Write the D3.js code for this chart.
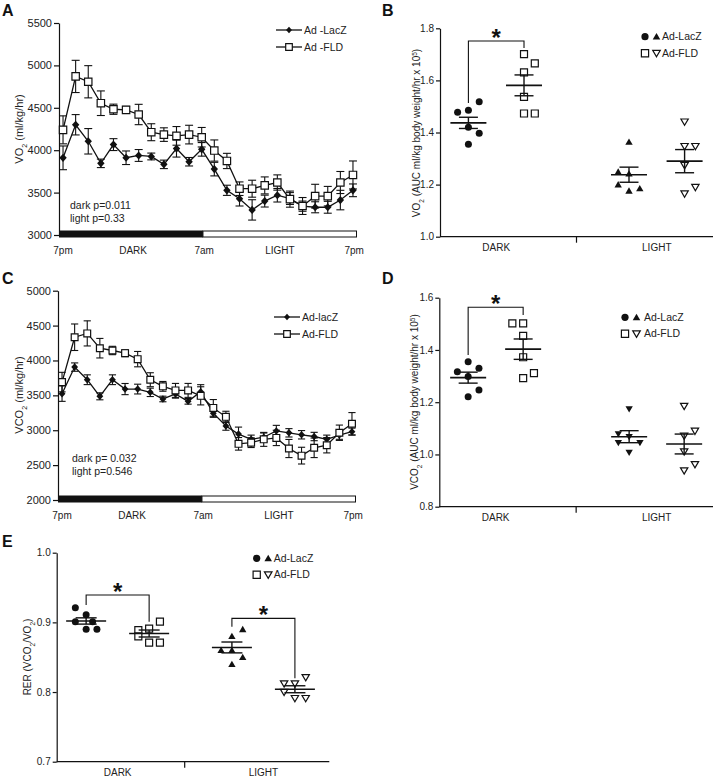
<!DOCTYPE html>
<html><head><meta charset="utf-8">
<script src="https://cdn.jsdelivr.net/npm/d3@7"></script>
<style>body{margin:0;background:#fff}svg{display:block}</style>
</head><body><svg id="c" width="713" height="778"></svg>
<script>
// ================= DATA =================
const hourIndex = d3.range(24);
const timeLabels = ["7pm", "DARK", "7am", "LIGHT", "7pm"];
const timeLabelAt = [0, 5.56, 11.2, 17.2, 23.1];   // in hour-index units
const darkEndsAt = 11.1;

const vo2Ticks = [3000, 3500, 4000, 4500, 5000, 5500];
const vo2LacZ    = [3910,4300,4105,3845,4066,3911,3938,3926,3833,4019,3864,4010,3777,3527,3427,3296,3400,3469,3430,3340,3327,3327,3412,3527];
const vo2LacZErr = [140,120,150,50,70,80,70,40,50,100,50,80,80,60,85,120,70,80,70,60,65,70,115,75];
const vo2FLD     = [4240,4870,4807,4554,4483,4476,4421,4212,4184,4169,4184,4153,3996,3873,3546,3546,3585,3619,3423,3342,3458,3458,3619,3708];
const vo2FLDErr  = [165,190,190,145,60,40,120,100,80,110,110,115,125,90,80,100,100,90,95,100,140,115,130,165];

const vco2Ticks = [2000, 2500, 3000, 3500, 4000, 4500, 5000];
const vco2LacZ    = [3524,3905,3724,3486,3724,3590,3590,3543,3448,3520,3414,3553,3245,3060,2945,2870,2900,2990,2963,2935,2910,2870,2930,2980];
const vco2LacZErr = [110,60,70,50,70,80,70,60,40,60,40,100,60,60,100,60,60,80,60,60,60,60,60,50];
const vco2FLD     = [3690,4333,4388,4176,4143,4105,4019,3724,3629,3571,3571,3493,3320,3192,2805,2822,2869,2890,2738,2636,2748,2785,2964,3093];
const vco2FLDErr  = [140,190,180,140,60,50,110,100,70,100,100,130,120,80,90,70,100,110,130,120,140,110,110,160];

const phases = ["DARK", "LIGHT"];

// B: VO2 AUC (x 10^5)
const vo2AucTicks = [1.0, 1.2, 1.4, 1.6, 1.8];
const vo2AucLacZDark  = [1.478, 1.485, 1.518, 1.420, 1.397, 1.355];
const vo2AucLacZDarkCol = [-1, 0, 1, 0, 1, 0];
const vo2AucFLDDark   = [1.701, 1.665, 1.631, 1.537, 1.473, 1.473];
const vo2AucFLDDarkCol = [0, 1, 0, 0, 0, 1];
const vo2AucLacZLight = [1.364, 1.249, 1.242, 1.200, 1.176, 1.185];
const vo2AucLacZLightCol = [0, -1, 0, -1, 0, 1];
const vo2AucFLDLight  = [1.441, 1.347, 1.347, 1.274, 1.190, 1.165];
const vo2AucFLDLightCol = [0, 0, 1, 0, 1, 0];
const vo2AucMean = [1.437, 1.581, 1.238, 1.290];   // LacZ dark, FLD dark, LacZ light, FLD light
const vo2AucSem  = [0.0215, 0.040, 0.029, 0.0445];

// D: VCO2 AUC (x 10^5)
const vco2AucTicks = [0.8, 1.0, 1.2, 1.4, 1.6];
const vco2AucLacZDark  = [1.355, 1.317, 1.330, 1.298, 1.247, 1.221];
const vco2AucLacZDarkCol = [0, -1, 1, 0, 1, 0];
const vco2AucFLDDark   = [1.502, 1.502, 1.454, 1.372, 1.292, 1.311];
const vco2AucFLDDarkCol = [-1, 0, 0, 0, 0, 1];
const vco2AucLacZLight = [1.174, 1.078, 1.068, 1.045, 1.045, 1.007];
const vco2AucLacZLightCol = [0, -1, 0, -1, 1, 0];
const vco2AucFLDLight  = [1.185, 1.090, 1.071, 1.011, 0.962, 0.938];
const vco2AucFLDLightCol = [0, 1, 0, 0, 1, 0];
const vco2AucMean = [1.294, 1.403, 1.068, 1.040];
const vco2AucSem  = [0.021, 0.039, 0.023, 0.038];

// E: RER
const rerTicks = [0.7, 0.8, 0.9, 1.0];
const rerLacZDark  = [0.921, 0.911, 0.901, 0.901, 0.890, 0.890];
const rerLacZDarkCol = [-1, 0, -1, 0.6, 0, 1];
const rerFLDDark   = [0.901, 0.891, 0.889, 0.880, 0.871, 0.871];
const rerFLDDarkCol = [1, 0, -1, -1, 0, 1];
const rerLacZLight = [0.890, 0.880, 0.860, 0.860, 0.850, 0.840];
const rerLacZLightCol = [1, 0, -1, 0, 1, 0];
const rerFLDLight  = [0.821, 0.812, 0.812, 0.800, 0.791, 0.791];
const rerFLDLightCol = [1, -1, 0, -1, 0, 1];
const rerMean = [0.902, 0.884, 0.864, 0.804];
const rerSem  = [0.0045, 0.005, 0.0078, 0.005];

// ================= DRAWING =================
const FONT = 'Arial, "Liberation Sans", Helvetica, sans-serif';
const INK = '#111';
const TXT = '#222';
const svg = d3.select('#c').attr('font-family', FONT);

function shapePath(type, s) {
  switch (type) {
    case 'circle': return d3.symbol(d3.symbolCircle, Math.PI * s * s)();
    case 'square': return `M${-s},${-s}h${2*s}v${2*s}h${-2*s}Z`;
    case 'diamond': return `M0,${-s*1.1}L${s},0L0,${s*1.1}L${-s},0Z`;
    case 'up': return `M0,${-s}L${s*1.05},${s*0.8}L${-s*1.05},${s*0.8}Z`;
    case 'down': return `M0,${s}L${s*1.05},${-s*0.8}L${-s*1.05},${-s*0.8}Z`;
  }
}
function drawMarker(g, type, filled, s, x, y) {
  g.append('path').attr('d', shapePath(type, s))
    .attr('transform', `translate(${x},${y})`)
    .attr('fill', filled ? INK : '#fff')
    .attr('stroke', filled ? 'none' : INK)
    .attr('stroke-width', 1.2);
}
function styleAxis(ax, fs) {
  ax.attr('font-family', FONT).attr('font-size', fs).attr('color', INK);
  ax.selectAll('path,line').attr('stroke', INK).attr('stroke-width', 1.2);
  ax.selectAll('text').attr('fill', TXT);
}
function panelLetter(t, x, y) {
  svg.append('text').attr('x', x).attr('y', y).attr('font-size', 16).attr('font-weight', 'bold')
    .attr('fill', INK).text(t);
}
function yLabel(parts, x, y, fs) {
  const t = svg.append('text').attr('transform', `translate(${x},${y}) rotate(-90)`)
    .attr('text-anchor', 'middle').attr('font-size', fs).attr('fill', TXT);
  parts.forEach(p => {
    if (typeof p === 'string') t.append('tspan').text(p);
    else {
      t.append('tspan').attr('baseline-shift', p.sub ? 'sub' : 'super')
        .attr('font-size', fs * 0.65).text(p.sub || p.sup);
    }
  });
}

function timePanel(c) {
  const g = svg.append('g');
  const x = d3.scaleLinear().domain([-0.32, 23.32]).range([c.x0, c.x1]);
  const y = d3.scaleLinear().domain([c.ticks[0], c.ticks[c.ticks.length - 1]]).range([c.yB, c.yT]);
  const ax = g.append('g').attr('transform', `translate(${c.x0},0)`)
    .call(d3.axisLeft(y).tickValues(c.ticks).tickSize(5).tickSizeOuter(0).tickPadding(2).tickFormat(d3.format('d')));
  styleAxis(ax, 11);
  const y0 = y(c.ticks[0]);
  g.append('rect').attr('x', x(-0.32)).attr('y', y0 - 4.5).attr('width', x(darkEndsAt) - x(-0.32)).attr('height', 7).attr('fill', INK);
  g.append('rect').attr('x', x(darkEndsAt)).attr('y', y0 - 4).attr('width', x(23.32) - x(darkEndsAt) - 0.5).attr('height', 6)
    .attr('fill', '#fff').attr('stroke', INK).attr('stroke-width', 1);
  timeLabels.forEach((t, i) => {
    g.append('text').attr('x', x(timeLabelAt[i])).attr('y', y0 + 19).attr('text-anchor', 'middle')
      .attr('font-size', 10).attr('fill', TXT).text(t);
  });
  c.series.forEach(s => {
    const sg = g.append('g');
    // error bars
    hourIndex.forEach(i => {
      const xi = x(i), hi = y(s.v[i] + s.e[i]), lo = y(s.v[i] - s.e[i]);
      sg.append('line').attr('x1', xi).attr('x2', xi).attr('y1', hi).attr('y2', lo).attr('stroke', INK).attr('stroke-width', 1.1);
      [hi, lo].forEach(yy => sg.append('line').attr('x1', xi - c.cap).attr('x2', xi + c.cap).attr('y1', yy).attr('y2', yy)
        .attr('stroke', INK).attr('stroke-width', 1.1));
    });
    sg.append('path').attr('d', d3.line().x(i => x(i)).y(i => y(s.v[i]))(hourIndex))
      .attr('fill', 'none').attr('stroke', INK).attr('stroke-width', 1.3);
    hourIndex.forEach(i => drawMarker(sg, s.type, s.filled, c.ms, x(i), y(s.v[i])));
  });
  // legend
  c.series.forEach((s, k) => {
    const ly = c.legY + k * 17;
    g.append('line').attr('x1', c.legX).attr('x2', c.legX + 26).attr('y1', ly).attr('y2', ly).attr('stroke', INK).attr('stroke-width', 1.3);
    drawMarker(g, s.type, s.filled, s.type === 'diamond' ? 3 : 3.3, c.legX + 13, ly);
    g.append('text').attr('x', c.legX + 28).attr('y', ly + 3.6).attr('font-size', 10.5).attr('fill', TXT).text(s.name);
  });
  c.notes.forEach((t, k) => {
    g.append('text').attr('x', c.noteX).attr('y', c.noteY + k * 13).attr('font-size', 10.5).attr('fill', TXT).text(t);
  });
}

function dotPanel(c) {
  const g = svg.append('g');
  const x = d3.scaleLinear().domain(c.xDomain).range([c.x0, c.x1]);
  const y = d3.scaleLinear().domain([c.ticks[0], c.ticks[c.ticks.length - 1]]).range([c.yB, c.yT]);
  const ax = g.append('g').attr('transform', `translate(${c.x0},0)`)
    .call(d3.axisLeft(y).tickValues(c.ticks).tickSize(4).tickSizeOuter(0).tickPadding(2).tickFormat(d3.format('.1f')));
  styleAxis(ax, 10);
  g.append('line').attr('x1', c.x0).attr('x2', c.x1).attr('y1', c.yB).attr('y2', c.yB).attr('stroke', INK).attr('stroke-width', 1.3);
  g.append('line').attr('x1', x(c.midTick)).attr('x2', x(c.midTick)).attr('y1', c.yB).attr('y2', c.yB + 6).attr('stroke', INK).attr('stroke-width', 1.2);
  phases.forEach((p, i) => g.append('text').attr('x', x(i)).attr('y', c.yB + 14.5).attr('text-anchor', 'middle')
    .attr('font-size', 10).attr('fill', TXT).text(p));
  const centers = [];
  c.groups.forEach((gr, k) => {
    const cx = x(gr.phase) + gr.side * c.subOff;
    centers.push(cx);
    gr.v.forEach((v, j) => drawMarker(g, gr.type, gr.filled, c.ms, cx + gr.col[j] * c.jit, y(v)));
    const m = c.mean[k], se = c.sem[k];
    const L = (x1, y1, x2, y2, w) => g.append('line').attr('x1', x1).attr('x2', x2).attr('y1', y1).attr('y2', y2)
      .attr('stroke', INK).attr('stroke-width', w);
    L(cx - c.meanHalf, y(m), cx + c.meanHalf, y(m), 1.6);
    L(cx, y(m - se), cx, y(m + se), 1.4);
    L(cx - c.capHalf, y(m + se), cx + c.capHalf, y(m + se), 1.4);
    L(cx - c.capHalf, y(m - se), cx + c.capHalf, y(m - se), 1.4);
  });
  c.brackets.forEach(b => {
    const xa = centers[b.a], xb = centers[b.b];
    g.append('path').attr('d', `M${xa},${y(b.leftEnd)}V${y(b.top)}H${xb}V${y(b.rightEnd)}`)
      .attr('fill', 'none').attr('stroke', INK).attr('stroke-width', 1.1);
    g.append('text').attr('x', (xa + xb) / 2).attr('y', y(b.top) + 5).attr('text-anchor', 'middle')
      .attr('font-size', 24).attr('font-weight', 'bold').attr('fill', INK).text('*');
  });
  // legend
  c.legend.forEach((row, k) => {
    const ly = c.legY + k * 16.5;
    drawMarker(g, row[0][0], row[0][1], 3.6, c.legX, ly);
    drawMarker(g, row[1][0], row[1][1], 3.6, c.legX + 11.5, ly);
    g.append('text').attr('x', c.legX + c.legTextDx).attr('y', ly + 3.6).attr('font-size', 10.5).attr('fill', TXT).text(row[2]);
  });
}

// ---- Panel A ----
panelLetter('A', 2, 16);
timePanel({
  x0: 59, x1: 357, yB: 235, yT: 23, ticks: vo2Ticks, cap: 4, ms: 3.7,
  series: [
    { name: 'Ad -LacZ', v: vo2LacZ, e: vo2LacZErr, type: 'diamond', filled: true },
    { name: 'Ad -FLD', v: vo2FLD, e: vo2FLDErr, type: 'square', filled: false }
  ],
  legX: 276, legY: 30, notes: ['dark p=0.011', 'light p=0.33'], noteX: 70, noteY: 209
});
yLabel(['VO', { sub: '2' }, ' (ml/kg/hr)'], 23, 129, 11);

// ---- Panel C ----
panelLetter('C', 2, 284);
timePanel({
  x0: 58, x1: 356, yB: 500, yT: 290.7, ticks: vco2Ticks, cap: 3.6, ms: 3.4,
  series: [
    { name: 'Ad-lacZ', v: vco2LacZ, e: vco2LacZErr, type: 'diamond', filled: true },
    { name: 'Ad-FLD', v: vco2FLD, e: vco2FLDErr, type: 'square', filled: false }
  ],
  legX: 274, legY: 317, notes: ['dark p= 0.032', 'light p=0.546'], noteX: 72, noteY: 461.5
});
yLabel(['VCO', { sub: '2' }, ' (ml/kg/hr)'], 23, 395, 11);

// ---- Panel B ----
panelLetter('B', 382, 16);
dotPanel({
  x0: 440, x1: 713, yB: 236.7, yT: 28.3, ticks: vo2AucTicks, xDomain: [-0.35, 1.35], midTick: 0.5,
  subOff: 27.8, jit: 10.8, ms: 3.5, meanHalf: 18, capHalf: 9.5,
  groups: [
    { phase: 0, side: -1, v: vo2AucLacZDark, col: vo2AucLacZDarkCol, type: 'circle', filled: true },
    { phase: 0, side: 1, v: vo2AucFLDDark, col: vo2AucFLDDarkCol, type: 'square', filled: false },
    { phase: 1, side: -1, v: vo2AucLacZLight, col: vo2AucLacZLightCol, type: 'up', filled: true },
    { phase: 1, side: 1, v: vo2AucFLDLight, col: vo2AucFLDLightCol, type: 'down', filled: false }
  ],
  mean: vo2AucMean, sem: vo2AucSem,
  brackets: [{ a: 0, b: 1, top: 1.751, leftEnd: 1.513, rightEnd: 1.724 }],
  legend: [[['circle', true], ['up', true], 'Ad-LacZ'], [['square', false], ['down', false], 'Ad-FLD']],
  legX: 645, legY: 36.7, legTextDx: 17
});
yLabel(['VO', { sub: '2' }, ' (AUC ml/kg body weight/hr x 10', { sup: '5' }, ')'], 420, 133, 10);

// ---- Panel D ----
panelLetter('D', 382, 284);
dotPanel({
  x0: 439.3, x1: 713, yB: 506.7, yT: 297.7, ticks: vco2AucTicks, xDomain: [-0.35, 1.35], midTick: 0.5,
  subOff: 27.5, jit: 10.8, ms: 3.5, meanHalf: 18, capHalf: 9.5,
  groups: [
    { phase: 0, side: -1, v: vco2AucLacZDark, col: vco2AucLacZDarkCol, type: 'circle', filled: true },
    { phase: 0, side: 1, v: vco2AucFLDDark, col: vco2AucFLDDarkCol, type: 'square', filled: false },
    { phase: 1, side: -1, v: vco2AucLacZLight, col: vco2AucLacZLightCol, type: 'down', filled: true },
    { phase: 1, side: 1, v: vco2AucFLDLight, col: vco2AucFLDLightCol, type: 'down', filled: false }
  ],
  mean: vco2AucMean, sem: vco2AucSem,
  brackets: [{ a: 0, b: 1, top: 1.5636, leftEnd: 1.381, rightEnd: 1.534 }],
  legend: [[['circle', true], ['up', true], 'Ad-LacZ'], [['square', false], ['down', false], 'Ad-FLD']],
  legX: 625, legY: 317.3, legTextDx: 19
});
yLabel(['VCO', { sub: '2' }, ' (AUC ml/kg body weight/hr x 10', { sup: '5' }, ')'], 418, 402, 10);

// ---- Panel E ----
panelLetter('E', 2, 547);
dotPanel({
  x0: 56.7, x1: 329.3, yB: 761.7, yT: 552.7, ticks: rerTicks, xDomain: [-0.418, 1.452], midTick: 0.46,
  subOff: 31.5, jit: 10.8, ms: 3.5, meanHalf: 20, capHalf: 10.5,
  groups: [
    { phase: 0, side: -1, v: rerLacZDark, col: rerLacZDarkCol, type: 'circle', filled: true },
    { phase: 0, side: 1, v: rerFLDDark, col: rerFLDDarkCol, type: 'square', filled: false },
    { phase: 1, side: -1, v: rerLacZLight, col: rerLacZLightCol, type: 'up', filled: true },
    { phase: 1, side: 1, v: rerFLDLight, col: rerFLDLightCol, type: 'down', filled: false }
  ],
  mean: rerMean, sem: rerSem,
  brackets: [
    { a: 0, b: 1, top: 0.9392, leftEnd: 0.9248, rightEnd: 0.9009 },
    { a: 2, b: 3, top: 0.9057, leftEnd: 0.8937, rightEnd: 0.8197 }
  ],
  legend: [[['circle', true], ['up', true], 'Ad-LacZ'], [['square', false], ['down', false], 'Ad-FLD']],
  legX: 256.7, legY: 558.3, legTextDx: 17
});
yLabel(['RER (VCO', { sub: '2' }, '/VO', { sub: '2' }, ')'], 31, 657, 10);
</script></body></html>
